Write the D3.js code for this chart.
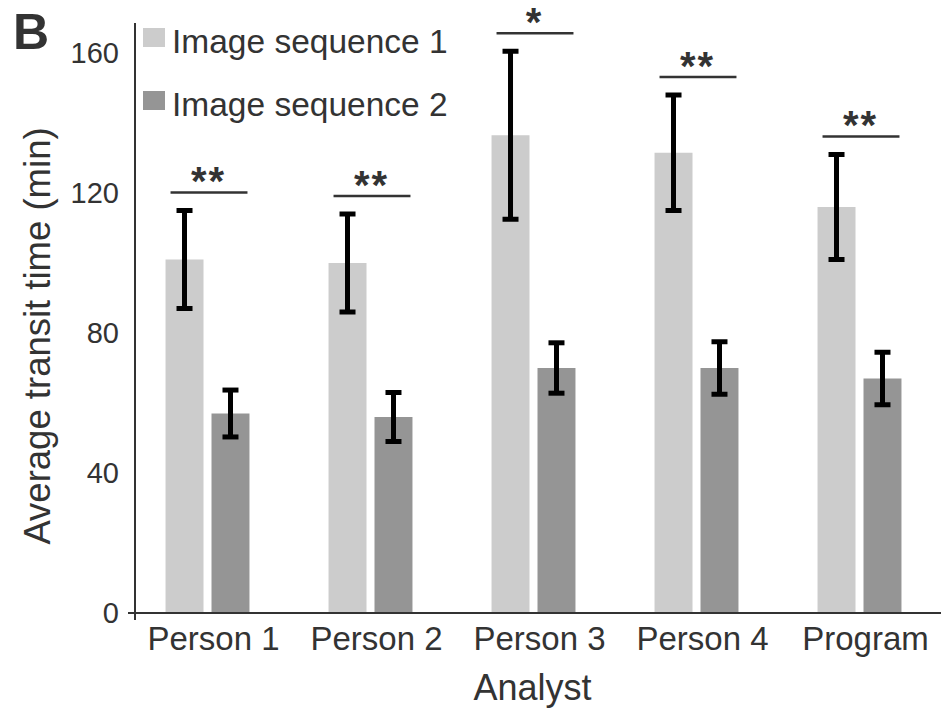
<!DOCTYPE html>
<html>
<head>
<meta charset="utf-8">
<script src="https://cdn.jsdelivr.net/npm/d3@7"></script>
<style>
  body { margin: 0; background: #fff; }
  text { font-family: "Liberation Sans", Arial, sans-serif; fill: #333; }
</style>
</head>
<body>
<script>
// data
categories = ['Person 1', 'Person 2', 'Person 3', 'Person 4', 'Program']
seriesNames = ['Image sequence 1', 'Image sequence 2']
seq1 = [101, 100, 136.5, 131.5, 116]
seq1Err = [14, 14, 24, 16.5, 15]
seq2 = [57, 56, 70, 70, 67]
seq2Err = [6.7, 7, 7.2, 7.5, 7.5]
signif = ['**', '**', '*', '**', '**']
yTicks = [0, 40, 80, 120, 160]

function main(){
	w = 946
	h = 711
	colors = ['#cccccc', '#959595']

	svg = d3.select('body')
					.append('svg')
					.attr('width', w)
					.attr('height', h)

	// Scales
	yScale = d3.scaleLinear()
						 .domain([0, 160])
						 .range([613, 53])

	xScale = d3.scaleBand()
						 .domain(categories)
						 .range([126, 941])
						 .paddingInner(0.485)
						 .paddingOuter(0.2425)

	x1 = d3.scaleBand()
				 .domain([0, 1])
				 .range([0, xScale.bandwidth()])
				 .paddingInner(0.174)

	rows = categories.map((c, i) => ({
		cat: c,
		vals: [
			{ k: 0, v: seq1[i], e: seq1Err[i] },
			{ k: 1, v: seq2[i], e: seq2Err[i] }
		],
		sig: signif[i]
	}))

	// Bars
	groups = svg.selectAll('g.grp')
							.data(rows)
							.enter()
							.append('g')
							.attr('class', 'grp')
							.attr('transform', d => `translate(${xScale(d.cat)}, 0)`)

	groups.selectAll('rect')
				.data(d => d.vals)
				.enter()
				.append('rect')
				.attr('x', d => x1(d.k))
				.attr('y', d => yScale(d.v))
				.attr('width', x1.bandwidth())
				.attr('height', d => yScale(0) - yScale(d.v))
				.attr('fill', d => colors[d.k])

	// Error bars
	capW = 16
	eb = groups.selectAll('g.err')
						 .data(d => d.vals)
						 .enter()
						 .append('g')
						 .attr('class', 'err')
						 .attr('stroke', '#000')
						 .attr('stroke-width', 5)

	eb.append('line')
		.attr('x1', d => x1(d.k) + x1.bandwidth()/2)
		.attr('x2', d => x1(d.k) + x1.bandwidth()/2)
		.attr('y1', d => yScale(d.v + d.e))
		.attr('y2', d => yScale(d.v - d.e))

	eb.selectAll('line.cap')
		.data(d => [[d, d.v + d.e], [d, d.v - d.e]])
		.enter()
		.append('line')
		.attr('class', 'cap')
		.attr('x1', d => x1(d[0].k) + x1.bandwidth()/2 - capW/2)
		.attr('x2', d => x1(d[0].k) + x1.bandwidth()/2 + capW/2)
		.attr('y1', d => yScale(d[1]))
		.attr('y2', d => yScale(d[1]))

	// Significance markers
	sigY = d => yScale(d.vals[0].v + d.vals[0].e) - 18
	groups.append('line')
				.attr('x1', 5)
				.attr('x2', xScale.bandwidth() - 2)
				.attr('y1', sigY)
				.attr('y2', sigY)
				.attr('stroke', '#333')
				.attr('stroke-width', 2.5)

	groups.append('text')
				.attr('x', xScale.bandwidth()/2 + 1)
				.attr('y', d => sigY(d) + 2.5)
				.attr('text-anchor', 'middle')
				.style('font-size', '40px')
				.style('font-weight', 'bold')
				.style('letter-spacing', '2px')
				.text(d => d.sig)

	// Axes
	yAxis = d3.axisLeft(yScale)
						.tickValues(yTicks)
						.tickSize(0)
						.tickPadding(16)

	gy = svg.append('g')
					.attr('transform', 'translate(135, 0)')
					.call(yAxis)
	gy.select('.domain').remove()
	gy.selectAll('text').style('font-size', '29px').attr('fill', '#333')

	svg.append('line')
		 .attr('x1', 135).attr('x2', 135)
		 .attr('y1', yScale(168.6)).attr('y2', yScale(0) + 7)
		 .attr('stroke', '#333').attr('stroke-width', 2)

	svg.append('line')
		 .attr('x1', 128).attr('x2', 941)
		 .attr('y1', yScale(0)).attr('y2', yScale(0))
		 .attr('stroke', '#333').attr('stroke-width', 2)

	xAxis = d3.axisBottom(xScale).tickSize(0).tickPadding(14)
	gx = svg.append('g')
					.attr('transform', `translate(0, ${yScale(0)})`)
					.call(xAxis)
	gx.select('.domain').remove()
	gx.selectAll('text')
		.style('font-size', '33px')
		.attr('fill', '#333')
		.attr('dx', 6)

	// Axis titles
	svg.append('text')
		 .attr('x', xScale('Person 3') + xScale.bandwidth()/2 - 1)
		 .attr('y', 700)
		 .attr('text-anchor', 'middle')
		 .style('font-size', '36px')
		 .text('Analyst')

	svg.append('text')
		 .attr('transform', 'translate(50, 336) rotate(-90)')
		 .attr('text-anchor', 'middle')
		 .style('font-size', '36.5px')
		 .text('Average transit time (min)')

	// Panel letter
	svg.append('text')
		 .attr('x', 13)
		 .attr('y', 49)
		 .style('font-size', '50px')
		 .style('font-weight', 'bold')
		 .text('B')

	// Legend
	leg = svg.selectAll('g.leg')
					 .data(seriesNames)
					 .enter()
					 .append('g')
					 .attr('class', 'leg')
					 .attr('transform', (d, i) => `translate(143, ${28 + i * 63})`)

	leg.append('rect')
		 .attr('width', 22)
		 .attr('height', 19)
		 .attr('fill', (d, i) => colors[i])

	leg.append('text')
		 .attr('x', 29)
		 .attr('y', 25)
		 .style('font-size', '33.5px')
		 .text(d => d)
}

main()
</script>
</body>
</html>
